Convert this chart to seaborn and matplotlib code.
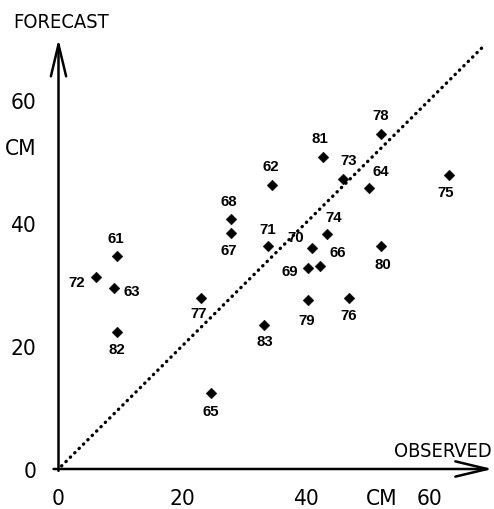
import matplotlib
matplotlib.use("Agg")
import matplotlib.pyplot as plt
from matplotlib import font_manager as fm
import seaborn as sns
import pandas as pd

# ---------------- data ----------------
station_ids = ["61", "62", "63", "64", "65", "66", "67", "68", "69", "70", "71", "72",
               "73", "74", "75", "76", "77", "78", "79", "80", "81", "82", "83"]
observed = [9.5, 34.5, 9.0, 50.3, 24.7, 42.4, 28.0, 28.0, 40.4, 41.0, 33.9, 6.0,
            46.0, 43.4, 63.2, 47.1, 23.0, 52.2, 40.4, 52.2, 42.8, 9.4, 33.3]
forecast = [34.7, 46.3, 29.4, 45.8, 12.4, 33.0, 38.5, 40.7, 32.7, 36.0, 36.3, 31.2,
            47.2, 38.2, 47.8, 27.9, 27.8, 54.6, 27.5, 36.3, 50.8, 22.3, 23.4]
diag_line = [0.5, 69.0]
tick_values = [0, 10, 20, 30, 40, 50, 60]
tick_labels = ["0", "", "20", "", "40", "", "60"]
unit_text = "CM"
unit_pos = 52.3
x_title = "OBSERVED"
y_title = "FORECAST"

# ---------------- layout (pixel offsets of labels: dx right, dy down) ----------------
label_offsets = {
    "61": (-1.6, -18), "62": (-1, -19), "63": (17.3, 2.4), "64": (11.2, -16.6),
    "65": (0, 18.5), "66": (17.7, -13.8), "67": (-3, 17.5), "68": (-3, -17.5),
    "69": (-18.7, 3), "70": (-15.7, -10.8), "71": (-0.5, -17.5), "72": (-19, 5),
    "73": (6, -19.2), "74": (7.3, -17.5), "75": (-2.8, 16.5), "76": (-1, 17.1),
    "77": (-2, 15.2), "78": (0, -18.7), "79": (-1.5, 20.2), "80": (1.6, 17.5),
    "81": (-3, -19.3), "82": (0, 16.5), "83": (0.4, 15.7),
}

sns.set_theme(style="white")

# pick the narrowest available face for the plotter-like lettering
fonts = fm.fontManager.ttflist
names = {f.name for f in fonts}
if "Liberation Sans Narrow" in names:
    axis_font = dict(family=["Liberation Sans Narrow", "DejaVu Sans"], stretch="normal")
    scale = 1.0
elif any(f.name == "DejaVu Sans" and f.stretch == "condensed" for f in fonts):
    axis_font = dict(family=["DejaVu Sans"], stretch="condensed")
    scale = 0.9
else:
    axis_font = dict(family=["Liberation Sans", "DejaVu Sans"], stretch="normal")
    scale = 0.88

plt.rcParams["font.family"] = axis_font["family"]
plt.rcParams["font.stretch"] = axis_font["stretch"]
plt.rcParams["text.color"] = "black"
plt.rcParams["xtick.color"] = "black"
plt.rcParams["ytick.color"] = "black"

W, H = 494, 510
fig = plt.figure(figsize=(W / 100, H / 100), dpi=100)
ax = fig.add_axes([58.5 / W, 40 / H, 432.3 / W, 430 / H])
ax.set_xlim(0, 70)
ax.set_ylim(0, 70)
for s in ax.spines.values():
    s.set_visible(False)

df = pd.DataFrame({"observed": observed, "forecast": forecast, "id": station_ids})
diag_df = pd.DataFrame({"x": diag_line, "y": diag_line})

sns.lineplot(data=diag_df, x="x", y="y", ax=ax, color="black", lw=2.4,
             linestyle=(0, (0.1, 1.75)), dash_capstyle="round", zorder=1)
sns.scatterplot(data=df, x="observed", y="forecast", ax=ax, marker="D", s=30,
                color="black", edgecolor="black", linewidth=0.3, zorder=3)

for sid, xo, yo in zip(station_ids, observed, forecast):
    dx, dy = label_offsets[sid]
    ax.annotate(sid, xy=(xo, yo), xytext=(dx, -dy), textcoords="offset pixels",
                ha="center", va="center", fontsize=10.8, fontweight="bold",
                family=["Liberation Sans", "DejaVu Sans"], fontstretch="normal",
                color="black", zorder=4)

# axes with arrows
arrow_kw = dict(arrowstyle="->,head_length=2.3,head_width=0.55", lw=1.8,
                color="black", mutation_scale=10, shrinkA=0, shrinkB=0)
ax.annotate("", xy=(0, 70), xytext=(0, -0.3), arrowprops=arrow_kw, annotation_clip=False)
ax.annotate("", xy=(70.3, 0), xytext=(-0.8, 0), arrowprops=arrow_kw, annotation_clip=False)

big = 18 * scale
ax.set_xticks(tick_values, tick_labels)
ax.set_yticks(tick_values, tick_labels)
ax.tick_params(axis="both", direction="inout", length=7.2, width=1.4, color="black",
               labelsize=big, labelcolor="black")
ax.tick_params(axis="x", pad=10)
ax.tick_params(axis="y", pad=12.5)
ax.set_xlabel("")
ax.set_ylabel("")

# unit labels
ax.annotate(unit_text, xy=(0, unit_pos), xytext=(-22.5, 2), textcoords="offset pixels",
            ha="right", va="center_baseline", fontsize=big, annotation_clip=False)
ax.annotate(unit_text, xy=(unit_pos, 0), xytext=(0, -18.8), textcoords="offset pixels",
            ha="center", va="top", fontsize=big, annotation_clip=False)

fig.text(13 / W, 1 - 22 / H, y_title, ha="left", va="center", fontsize=16 * scale)
fig.text(492 / W, 1 - 452 / H, x_title, ha="right", va="center", fontsize=16 * scale)

fig.savefig("out.png", dpi=100)
